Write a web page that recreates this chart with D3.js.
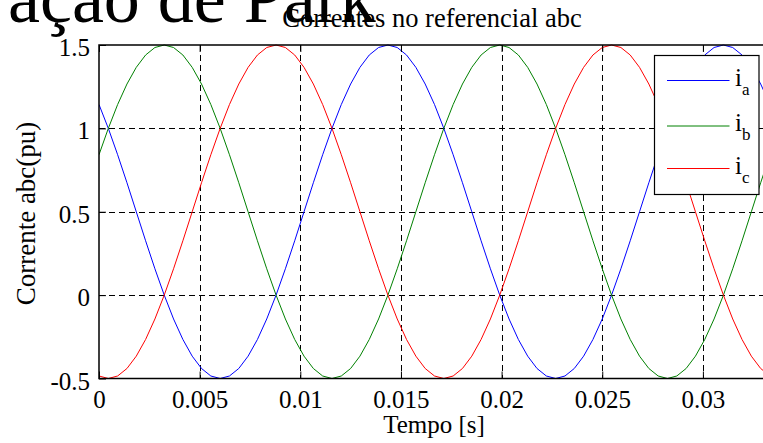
<!DOCTYPE html>
<html>
<head>
<meta charset="utf-8">
<script src="https://cdn.jsdelivr.net/npm/d3@7"></script>
<style>
  html, body { margin: 0; padding: 0; background: #ffffff; }
  svg { display: block; }
  text { font-family: "Liberation Serif", "Times New Roman", serif; fill: #000; }
</style>
</head>
<body>
<svg id="chart" width="763" height="443"></svg>
<script>
// Sample times (s), 60 Hz three-phase currents, per-unit with 0.5 offset
const t = [0, 0.000463, 0.000926, 0.001389, 0.001852, 0.002315, 0.002778, 0.003241, 0.003704, 0.004167,
  0.00463, 0.005093, 0.005556, 0.006019, 0.006481, 0.006944, 0.007407, 0.00787, 0.008333, 0.008796,
  0.009259, 0.009722, 0.010185, 0.010648, 0.011111, 0.011574, 0.012037, 0.0125, 0.012963, 0.013426,
  0.013889, 0.014352, 0.014815, 0.015278, 0.015741, 0.016204, 0.016667, 0.01713, 0.017593, 0.018056,
  0.018519, 0.018981, 0.019444, 0.019907, 0.02037, 0.020833, 0.021296, 0.021759, 0.022222, 0.022685,
  0.023148, 0.023611, 0.024074, 0.024537, 0.025, 0.025463, 0.025926, 0.026389, 0.026852, 0.027315,
  0.027778, 0.028241, 0.028704, 0.029167, 0.02963, 0.030093, 0.030556, 0.031019, 0.031481, 0.031944,
  0.032407, 0.03287, 0.033333, 0.033796];

const ia = [1.143, 1.0, 0.842, 0.674, 0.5, 0.326, 0.158, 0, -0.143, -0.266,
  -0.366, -0.44, -0.485, -0.5, -0.485, -0.44, -0.366, -0.266, -0.143, 0,
  0.158, 0.326, 0.5, 0.674, 0.842, 1.0, 1.143, 1.266, 1.366, 1.44,
  1.485, 1.5, 1.485, 1.44, 1.366, 1.266, 1.143, 1.0, 0.842, 0.674,
  0.5, 0.326, 0.158, 0, -0.143, -0.266, -0.366, -0.44, -0.485, -0.5,
  -0.485, -0.44, -0.366, -0.266, -0.143, 0, 0.158, 0.326, 0.5, 0.674,
  0.842, 1.0, 1.143, 1.266, 1.366, 1.44, 1.485, 1.5, 1.485, 1.44,
  1.366, 1.266, 1.143, 1.0];

const ib = [0.842, 1.0, 1.143, 1.266, 1.366, 1.44, 1.485, 1.5, 1.485, 1.44,
  1.366, 1.266, 1.143, 1.0, 0.842, 0.674, 0.5, 0.326, 0.158, 0,
  -0.143, -0.266, -0.366, -0.44, -0.485, -0.5, -0.485, -0.44, -0.366, -0.266,
  -0.143, 0, 0.158, 0.326, 0.5, 0.674, 0.842, 1.0, 1.143, 1.266,
  1.366, 1.44, 1.485, 1.5, 1.485, 1.44, 1.366, 1.266, 1.143, 1.0,
  0.842, 0.674, 0.5, 0.326, 0.158, 0, -0.143, -0.266, -0.366, -0.44,
  -0.485, -0.5, -0.485, -0.44, -0.366, -0.266, -0.143, 0, 0.158, 0.326,
  0.5, 0.674, 0.842, 1.0];

const ic = [-0.485, -0.5, -0.485, -0.44, -0.366, -0.266, -0.143, 0, 0.158, 0.326,
  0.5, 0.674, 0.842, 1.0, 1.143, 1.266, 1.366, 1.44, 1.485, 1.5,
  1.485, 1.44, 1.366, 1.266, 1.143, 1.0, 0.842, 0.674, 0.5, 0.326,
  0.158, 0, -0.143, -0.266, -0.366, -0.44, -0.485, -0.5, -0.485, -0.44,
  -0.366, -0.266, -0.143, 0, 0.158, 0.326, 0.5, 0.674, 0.842, 1.0,
  1.143, 1.266, 1.366, 1.44, 1.485, 1.5, 1.485, 1.44, 1.366, 1.266,
  1.143, 1.0, 0.842, 0.674, 0.5, 0.326, 0.158, 0, -0.143, -0.266,
  -0.366, -0.44, -0.485, -0.5];

const xTicks = [0, 0.005, 0.01, 0.015, 0.02, 0.025, 0.03];
const xTickLabels = ["0", "0.005", "0.01", "0.015", "0.02", "0.025", "0.03"];
const yTicks = [-0.5, 0, 0.5, 1, 1.5];
const yTickLabels = ["-0.5", "0", "0.5", "1", "1.5"];
const seriesNames = ["a", "b", "c"];
const seriesColors = ["#0000ff", "#008000", "#ff0000"];

const svg = d3.select("#chart");
const W = 763, H = 443;
const plot = { left: 99, right: 770, top: 45, bottom: 378.5 };

const x = d3.scaleLinear().domain([0, 1 / 30]).range([plot.left, plot.right]);
const y = d3.scaleLinear().domain([-0.5, 1.5]).range([plot.bottom, plot.top]);

svg.append("rect").attr("width", W).attr("height", H).attr("fill", "#ffffff");

// Slide heading partly visible behind the figure
svg.append("text")
  .attr("x", 8).attr("y", 22)
  .style("font-size", "72px")
  .text("ação de Park");

// Figure title
svg.append("text")
  .attr("x", 432).attr("y", 27)
  .attr("text-anchor", "middle")
  .style("font-size", "26.5px")
  .text("Correntes no referencial abc");

// Plot background
svg.append("rect")
  .attr("x", plot.left).attr("y", plot.top)
  .attr("width", plot.right - plot.left).attr("height", plot.bottom - plot.top)
  .attr("fill", "#ffffff");

// Dashed grid
const grid = svg.append("g").attr("stroke", "#000").attr("stroke-width", 1)
  .attr("stroke-dasharray", "6,4").attr("fill", "none");
grid.selectAll("line.gx").data(xTicks.filter(d => d > 0)).join("line")
  .attr("x1", d => Math.round(x(d)) + 0.5).attr("x2", d => Math.round(x(d)) + 0.5)
  .attr("y1", plot.top).attr("y2", plot.bottom);
grid.selectAll("line.gy").data(yTicks.filter(d => d > -0.5 && d < 1.5)).join("line")
  .attr("x1", plot.left).attr("x2", plot.right)
  .attr("y1", d => Math.round(y(d)) + 0.5).attr("y2", d => Math.round(y(d)) + 0.5);

// Clip the curves to the axes box
svg.append("clipPath").attr("id", "plotClip")
  .append("rect")
  .attr("x", plot.left).attr("y", plot.top - 1)
  .attr("width", plot.right - plot.left).attr("height", plot.bottom - plot.top + 2);

const series = [ia, ib, ic];
const line = d3.line().x(d => x(d[0])).y(d => y(d[1]));
const curves = svg.append("g").attr("clip-path", "url(#plotClip)");
series.forEach((vals, i) => {
  curves.append("path")
    .datum(t.map((tt, k) => [tt, vals[k]]))
    .attr("d", line)
    .attr("fill", "none")
    .attr("stroke", seriesColors[i])
    .attr("stroke-width", 1);
});

// Axes with inward ticks
const xAxisB = d3.axisBottom(x).tickValues(xTicks).tickSize(-7).tickFormat((d, i) => xTickLabels[i]);
const xAxisT = d3.axisTop(x).tickValues(xTicks).tickSize(-7).tickFormat("");
const yAxisL = d3.axisLeft(y).tickValues(yTicks).tickSize(-7).tickFormat((d, i) => yTickLabels[i]);

const gB = svg.append("g").attr("transform", `translate(0,${plot.bottom})`).call(xAxisB);
const gT = svg.append("g").attr("transform", `translate(0,${plot.top})`).call(xAxisT);
const gL = svg.append("g").attr("transform", `translate(${plot.left},0)`).call(yAxisL);

[gB, gT, gL].forEach(g => {
  g.select(".domain").remove();
  g.selectAll(".tick line").attr("stroke", "#000").attr("stroke-width", 1);
});
gB.selectAll(".tick text")
  .attr("y", 29.5).attr("dy", null)
  .style("font-size", "25px").attr("font-family", null);
gL.selectAll(".tick text")
  .attr("x", -9).attr("dy", null).attr("y", 10.5)
  .style("font-size", "25px").attr("font-family", null);

// Axes box
svg.append("rect")
  .attr("x", plot.left).attr("y", plot.top)
  .attr("width", plot.right - plot.left).attr("height", plot.bottom - plot.top)
  .attr("fill", "none").attr("stroke", "#000").attr("stroke-width", 1.5);

// Axis labels
svg.append("text")
  .attr("x", 434).attr("y", 433)
  .attr("text-anchor", "middle")
  .style("font-size", "25px")
  .text("Tempo [s]");
svg.append("text")
  .attr("transform", "translate(35,213.5) rotate(-90)")
  .attr("text-anchor", "middle")
  .style("font-size", "27px")
  .text("Corrente abc(pu)");

// Legend
const lg = svg.append("g");
lg.append("rect")
  .attr("x", 654.5).attr("y", 55.5).attr("width", 104.5).attr("height", 139)
  .attr("fill", "#ffffff").attr("stroke", "#000").attr("stroke-width", 1.2);
const legendY = [80.5, 126, 168.5];
seriesNames.forEach((name, i) => {
  lg.append("line")
    .attr("x1", 667).attr("x2", 729.5)
    .attr("y1", legendY[i]).attr("y2", legendY[i])
    .attr("stroke", seriesColors[i]).attr("stroke-width", 1);
  const tx = lg.append("text")
    .attr("x", 735).attr("y", legendY[i] + 5)
    .style("font-size", "25px");
  tx.append("tspan").text("i");
  tx.append("tspan").attr("dy", 9).style("font-size", "17px").text(name);
});
</script>
</body>
</html>
